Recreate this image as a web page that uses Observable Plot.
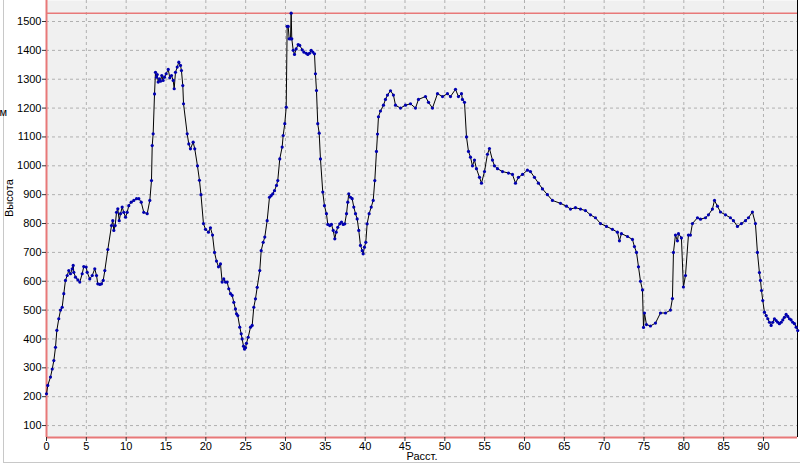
<!DOCTYPE html>
<html><head><meta charset="utf-8">
<script src="https://cdn.jsdelivr.net/npm/d3@7"></script>
<script src="https://cdn.jsdelivr.net/npm/@observablehq/plot@0.6"></script>
<style>
body{margin:0;background:#fff;}
#wrap{position:relative;width:800px;height:468px;overflow:hidden;}
#frame{position:absolute;left:3px;top:0;width:797px;height:463px;border-left:1px solid #c8c8c8;border-bottom:1px solid #c8c8c8;box-sizing:border-box;pointer-events:none;}
#wrap svg{position:absolute;left:0;top:0;}
</style></head><body><div id="wrap"><div id="frame"></div></div>
<script>
const dist = [0,0.16,0.5,0.72,0.92,1.13,1.3,1.54,1.76,1.97,2.17,2.38,2.6,2.8,3.01,3.23,3.35,3.43,3.64,3.93,4.18,4.48,4.68,4.98,5.11,5.43,5.74,6.06,6.28,6.44,6.69,6.9,7.12,7.32,7.7,8.16,8.32,8.45,8.62,8.79,8.95,9.13,9.29,9.5,9.7,9.92,10.13,10.33,10.63,10.96,11.3,11.59,11.89,12.21,12.64,12.97,13.18,13.27,13.39,13.56,13.68,13.81,13.9,14.02,14.18,14.31,14.47,14.64,14.81,15.02,15.28,15.48,15.69,15.9,16.03,16.19,16.41,16.61,16.82,16.94,17.11,17.2,17.66,17.86,18.07,18.41,18.61,18.95,19.2,19.39,19.7,19.96,20.33,20.58,20.84,21.09,21.34,21.59,21.84,22.05,22.25,22.47,22.68,22.88,23.1,23.31,23.51,23.72,23.85,24.01,24.26,24.44,24.56,24.73,24.85,24.98,25.1,25.32,25.61,25.82,26.02,26.23,26.45,26.77,26.95,27.2,27.4,27.7,27.99,28.2,28.4,28.62,28.87,29.03,29.28,29.58,29.71,29.91,30.09,30.21,30.34,30.46,30.63,30.71,30.79,30.97,31.13,31.34,31.59,31.79,32.1,32.3,32.6,32.8,33.01,33.22,33.43,33.64,33.76,33.89,34.05,34.23,34.39,34.68,34.89,35.14,35.31,35.56,35.77,35.99,36.19,36.36,36.56,36.81,37.03,37.24,37.44,37.66,37.82,37.94,38.16,38.37,38.57,38.79,39,39.2,39.41,39.63,39.75,39.91,40.08,40.25,40.5,40.76,41.01,41.21,41.42,41.55,41.67,41.92,42.3,42.55,42.8,43.18,43.55,43.81,44.43,45.06,45.69,46.32,46.69,47.57,47.95,48.45,49.08,49.71,50.33,50.71,51.34,51.71,52.09,52.21,52.47,52.72,52.97,53.22,53.47,53.72,53.97,54.35,54.6,54.98,55.35,55.6,55.98,56.23,56.61,57.24,57.99,58.49,58.87,59.24,59.75,60.37,60.75,61.25,61.75,62.26,62.88,63.51,64.52,65.27,65.77,66.4,67.03,67.65,68.28,68.91,69.54,70.29,71.04,71.67,71.92,72.17,72.93,73.55,73.8,74.06,74.31,74.56,74.81,74.94,75.06,75.31,75.81,76.44,77.07,77.7,78.32,78.57,78.7,78.95,79.2,79.33,79.7,79.95,80.21,80.58,80.83,81.08,81.71,82.09,82.72,83.09,83.59,83.85,84.22,84.6,85.23,85.85,86.23,86.73,87.23,87.74,88.11,88.61,88.99,89.24,89.49,89.62,89.75,89.91,90.12,90.34,90.54,90.75,90.96,91.16,91.38,91.59,91.79,92,92.22,92.42,92.63,92.84,93.05,93.26,93.47,93.67,93.89,94.1,94.3];
const elev = [210,239,268,296,325,371,430,470,500,510,557,603,620,637,626,643,655,631,614,605,597,626,651,649,631,608,620,643,620,591,589,591,603,637,710,793,810,776,793,839,851,810,834,857,839,822,839,862,874,880,886,886,874,839,834,880,949,1070,1111,1249,1324,1307,1316,1290,1301,1293,1313,1296,1307,1319,1334,1305,1313,1296,1267,1324,1342,1359,1348,1330,1278,1215,1111,1076,1059,1082,1059,1000,950,900,800,780,770,785,760,700,670,650,660,597,608,597,597,574,557,551,527,504,487,481,441,418,400,375,365,370,385,406,441,447,510,539,579,637,706,735,753,810,891,897,903,914,932,949,1024,1065,1105,1146,1203,1483,1483,1440,1440,1529,1440,1400,1386,1405,1420,1417,1402,1394,1390,1386,1390,1400,1394,1388,1319,1261,1146,1113,1024,909,862,834,797,793,797,776,747,770,787,799,805,797,799,834,874,903,891,886,857,834,816,776,724,706,695,718,735,799,834,857,880,949,1050,1110,1170,1190,1210,1230,1245,1260,1245,1210,1200,1210,1215,1200,1230,1240,1220,1200,1250,1240,1250,1240,1265,1240,1250,1230,1220,1100,1050,1030,1000,1020,990,960,940,980,1040,1060,1020,1000,990,980,975,970,940,960,970,985,980,960,940,920,900,880,870,860,850,855,850,845,830,820,800,790,780,770,740,765,755,745,720,700,650,600,570,440,490,450,445,455,490,490,500,540,700,760,740,765,750,580,620,760,760,800,820,815,820,830,850,880,860,840,830,820,810,790,800,810,820,840,800,700,630,603,568,533,493,481,470,458,447,458,470,464,458,453,458,466,475,485,478,470,466,458,453,441,429];
const xTicks = [0,5,10,15,20,25,30,35,40,45,50,55,60,65,70,75,80,85,90];
const yTicks = [100,200,300,400,500,600,700,800,900,1000,1100,1200,1300,1400,1500];
const xLabel = "Расст.";
const yLabel = "Высота";
const unitLabel = "м";

const data = dist.map((d, i) => ({d, h: elev[i]}));
const xMax = 94.27, yMin = 58.6, yMax = 1572.8;
const maxH = d3.max(elev);
const red = "#e87878";
const chart = Plot.plot({
  width: 800, height: 468,
  marginLeft: 46, marginRight: 3, marginTop: 0, marginBottom: 31,
  style: {fontFamily: "'Liberation Sans', Arial, sans-serif", fontSize: "11px", background: "transparent", color: "#000", overflow: "visible"},
  x: {domain: [0, xMax]},
  y: {domain: [yMin, yMax]},
  marks: [
    Plot.frame({fill: "#f0f0f0", stroke: null}),
    Plot.gridX(xTicks, {stroke: "#b0b0b0", strokeOpacity: 1, strokeDasharray: "3,3"}),
    Plot.gridY(yTicks, {stroke: "#b0b0b0", strokeOpacity: 1, strokeDasharray: "3,3"}),
    Plot.ruleX([xMax], {stroke: "#000", strokeWidth: 1}),
    Plot.ruleX([0], {stroke: red, strokeWidth: 2}),
    Plot.ruleY([yMin], {stroke: red, strokeWidth: 2}),
    Plot.ruleY([maxH], {stroke: red, strokeWidth: 1.5}),
    Plot.line(data, {x: "d", y: "h", stroke: "#000", strokeWidth: 1}),
    Plot.dot(data, {x: "d", y: "h", r: 1.6, fill: "#0000b0", stroke: null}),
    Plot.axisX(xTicks, {tickSize: 4, tickPadding: 1, tickFormat: d => String(d), label: null, stroke: "#333"}),
    Plot.axisY(yTicks, {tickSize: 4, tickPadding: 1, tickFormat: d => String(d), label: null, stroke: "#333"}),
    Plot.text([xLabel], {text: d => d, frameAnchor: "bottom", dy: 22}),
    Plot.text([yLabel], {text: d => d, frameAnchor: "left", dx: -37, dy: -2, rotate: -90}),
    Plot.text([unitLabel], {text: d => d, frameAnchor: "top-left", dx: -47, dy: 108})
  ]
});
document.getElementById("wrap").appendChild(chart);
</script>
</body></html>
